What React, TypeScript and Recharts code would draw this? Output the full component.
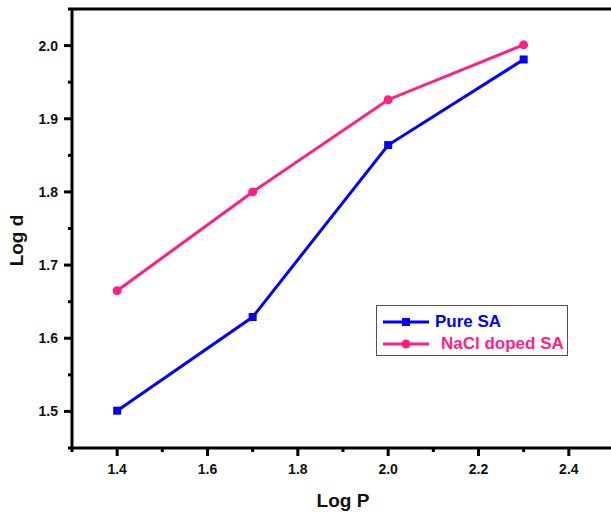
import { LineChart, Line, XAxis, YAxis, ReferenceLine } from "recharts";

// Log P vs Log d for the two samples
const logP = [1.4, 1.7, 2.0, 2.3];
const pureSA = [1.501, 1.629, 1.864, 1.981];
const naclSA = [1.665, 1.8, 1.926, 2.001];

const xMajor = [1.4, 1.6, 1.8, 2.0, 2.2, 2.4];
const xMinor = [1.3, 1.5, 1.7, 1.9, 2.1, 2.3, 2.5];
const yMajor = [1.5, 1.6, 1.7, 1.8, 1.9, 2.0];
const yMinor = [1.45, 1.55, 1.65, 1.75, 1.85, 1.95, 2.05];

const data = logP.map((p, i) => ({ p, pure: pureSA[i], nacl: naclSA[i] }));

const BLUE = "#0000ff";
const PINK = "#ff1f84";
const FONT = "Liberation Sans, Arial, sans-serif";

const isMajor = (list: number[], v: number) => list.some((m) => Math.abs(m - v) < 1e-6);

function XTick({ x, y, payload }: any) {
  const major = isMajor(xMajor, payload.value);
  return (
    <g>
      <line x1={x} x2={x} y1={y} y2={y + (major ? 8 : 4)} stroke="#000" strokeWidth={3} />
      {major && (
        <text x={x} y={y + 26} textAnchor="middle" fontFamily={FONT} fontWeight={700} fontSize={14} fill="#111">
          {payload.value.toFixed(1)}
        </text>
      )}
    </g>
  );
}

function YTick({ x, y, payload }: any) {
  const major = isMajor(yMajor, payload.value);
  return (
    <g>
      <line x1={x - (major ? 8 : 4)} x2={x} y1={y} y2={y} stroke="#000" strokeWidth={3} />
      {major && (
        <text x={x - 14} y={y + 5} textAnchor="end" fontFamily={FONT} fontWeight={700} fontSize={14} fill="#111">
          {payload.value.toFixed(1)}
        </text>
      )}
    </g>
  );
}

function SquareDot({ cx, cy, index }: any) {
  return <rect key={`sq-${index}`} x={cx - 4} y={cy - 4} width={8} height={8} fill={BLUE} />;
}

function LegendBox() {
  const row = (top: number, color: string, label: string, square: boolean, textLeft: number) => (
    <div style={{ position: "absolute", left: 0, top, height: 20, width: "100%" }}>
      <svg width={52} height={20} style={{ position: "absolute", left: 4, top: 0 }}>
        <line x1={2} x2={48} y1={10} y2={10} stroke={color} strokeWidth={3} />
        {square ? (
          <rect x={21} y={6} width={8} height={8} fill={color} />
        ) : (
          <circle cx={25} cy={10} r={4.5} fill={color} />
        )}
      </svg>
      <span
        style={{
          position: "absolute",
          left: textLeft,
          top: 0,
          lineHeight: "20px",
          fontFamily: FONT,
          fontWeight: "bold",
          fontSize: 17,
          color,
          whiteSpace: "nowrap",
        }}
      >
        {label}
      </span>
    </div>
  );
  return (
    <div
      style={{
        position: "absolute",
        left: 376,
        top: 305,
        width: 192,
        height: 51,
        boxSizing: "border-box",
        border: "1px solid #555",
        background: "#fff",
      }}
    >
      {row(6, BLUE, "Pure SA", true, 58)}
      {row(28, PINK, "NaCl doped SA", false, 64)}
    </div>
  );
}

export default function App() {
  return (
    <div style={{ position: "absolute", left: 0, top: 0, width: 611, height: 515, overflow: "hidden", background: "#fff" }}>
      <LineChart width={620} height={515} data={data} margin={{ top: 9, right: 6, bottom: 0, left: 0 }}>
        <XAxis
          dataKey="p"
          type="number"
          domain={[1.3, 2.5]}
          ticks={[...xMinor, ...xMajor].sort((a, b) => a - b)}
          interval={0}
          height={67}
          tickSize={0}
          tickMargin={0}
          tickLine={false}
          tick={<XTick />}
          axisLine={{ stroke: "#000", strokeWidth: 3 }}
          label={{ value: "Log P", position: "insideBottom", offset: 8, fontSize: 19, fontWeight: 700, fill: "#111", fontFamily: FONT }}
        />
        <YAxis
          type="number"
          domain={[1.45, 2.05]}
          ticks={[...yMinor, ...yMajor].sort((a, b) => a - b)}
          interval={0}
          width={72}
          tickSize={0}
          tickMargin={0}
          tickLine={false}
          tick={<YTick />}
          axisLine={{ stroke: "#000", strokeWidth: 3 }}
          label={{
            value: "Log d",
            angle: -90,
            position: "insideLeft",
            offset: 16,
            dy: 12,
            fontSize: 19,
            fontWeight: 700,
            fill: "#111",
            fontFamily: FONT,
            textAnchor: "middle",
          }}
        />
        <ReferenceLine y={2.05} stroke="#000" strokeWidth={3} ifOverflow="visible" />
        <Line dataKey="pure" stroke={BLUE} strokeWidth={3} dot={<SquareDot />} isAnimationActive={false} />
        <Line
          dataKey="nacl"
          stroke={PINK}
          strokeWidth={3}
          dot={{ r: 4.5, fill: PINK, stroke: PINK, strokeWidth: 0 }}
          isAnimationActive={false}
        />
      </LineChart>
      <LegendBox />
    </div>
  );
}
